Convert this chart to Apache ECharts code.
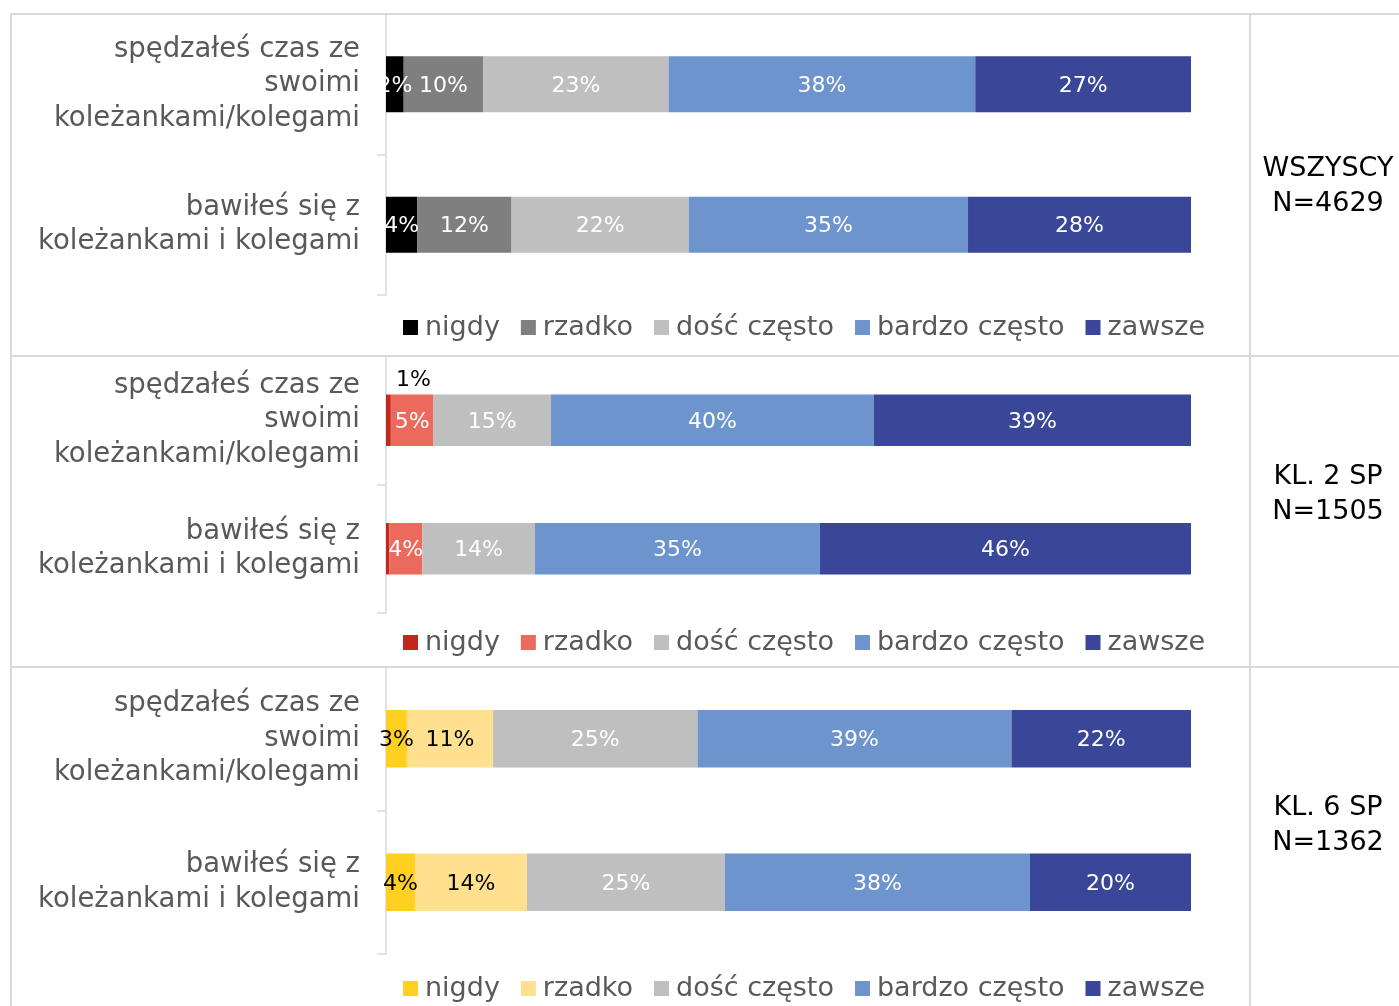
<!DOCTYPE html>
<html>
<head>
    <meta charset="utf-8">
    <title>Spędzanie czasu z kolegami</title>
    <script src="https://cdn.jsdelivr.net/npm/echarts@6/dist/echarts.min.js"></script>
    <style>
        body { margin: 0; background: #fff; }
    </style>
</head>
<body>
    <div id="main" style="width: 1399px; height: 1006px;"></div>
    <script type="text/javascript">
        // kategorie (pytania) i odpowiedzi
        const categories = ['spędzałeś czas ze\nswoimi\nkoleżankami/kolegami', 'bawiłeś się z\nkoleżankami i kolegami'];
        const answers = ['nigdy', 'rzadko', 'dość często', 'bardzo często', 'zawsze'];
        const groupNames = ['WSZYSCY', 'KL. 2 SP', 'KL. 6 SP'];
        const groupN = [4629, 1505, 1362];

        // odsetki: [odpowiedź][pytanie]
        const wszyscy = [[2.2, 3.9], [9.9, 11.7], [23.0, 22.0], [38.1, 34.7], [26.8, 27.7]];
        const klasa2 = [[0.6, 0.4], [5.3, 4.1], [14.6, 14.0], [40.1, 35.4], [39.4, 46.1]];
        const klasa6 = [[2.6, 3.6], [10.7, 13.9], [25.4, 24.6], [39.0, 37.9], [22.3, 20.0]];

        const groups = [wszyscy, klasa2, klasa6];

        // kolory paneli
        const palettes = [
            ['#000000', '#7f7f7f', '#bfbfbf', '#6d94cc', '#3a4697'],
            ['#c0271d', '#ec695d', '#bfbfbf', '#6d94cc', '#3a4697'],
            ['#ffd01f', '#ffe08f', '#bfbfbf', '#6d94cc', '#3a4697']
        ];
        const labelColors = [
            ['#fff', '#fff', '#fff', '#fff', '#fff'],
            ['#000', '#fff', '#fff', '#fff', '#fff'],
            ['#000', '#000', '#fff', '#fff', '#fff']
        ];

        const FONT = 'DejaVu Sans';
        const gridTops = [14, 356, 667];
        const gridHeights = [281, 257, 287];
        const legendCenters = [330, 645, 991];
        const sideCenters = [186, 494, 825];
        const lineColor = '#d9d9d9';

        var myChart = echarts.init(document.getElementById('main'));

        const grid = [], xAxis = [], yAxis = [], series = [], legend = [];

        groups.forEach((vals, g) => {
            grid.push({ left: 386, width: 805, top: gridTops[g], height: gridHeights[g] });
            xAxis.push({ type: 'value', gridIndex: g, min: 0, max: 100, show: false });
            yAxis.push({
                type: 'category',
                gridIndex: g,
                inverse: true,
                data: categories,
                axisLine: { show: true, lineStyle: { color: lineColor, width: 1.5 } },
                axisTick: { show: true, alignWithLabel: false, length: 9, lineStyle: { color: lineColor, width: 1.5 } },
                axisLabel: {
                    color: '#595959',
                    fontFamily: FONT,
                    fontSize: 27.5,
                    lineHeight: 34.5,
                    margin: 26,
                    padding: [9, 0, 0, 0]
                }
            });

            answers.forEach((name, a) => {
                series.push({
                    type: 'bar',
                    name: name,
                    stack: 'g' + g,
                    xAxisIndex: g,
                    yAxisIndex: g,
                    barWidth: '40%',
                    itemStyle: { color: palettes[g][a] },
                    label: {
                        show: true,
                        position: 'inside',
                        offset: [0, 2],
                        color: labelColors[g][a],
                        fontFamily: FONT,
                        fontSize: 22,
                        formatter: p => Math.round(p.value) + '%'
                    },
                    data: vals[a].map(v => {
                        const r = Math.round(v);
                        if (r === 0) return { value: v, label: { show: false } };
                        if (v < 1) return { value: v, label: { position: 'top', offset: [25, 2], color: '#000' } };
                        return v;
                    })
                });
            });

            legend.push({
                left: 403,
                top: legendCenters[g] - 16,
                padding: 0,
                icon: 'rect',
                itemWidth: 15,
                itemHeight: 15,
                itemGap: 21,
                selectedMode: false,
                textStyle: { color: '#595959', fontFamily: FONT, fontSize: 27, padding: [0, 0, 0, 2] },
                data: answers.map((n, a) => ({ name: n, itemStyle: { color: palettes[g][a] } }))
            });
        });

        // linie tabeli + opisy grup
        const graphics = [];
        const hLine = y => ({ type: 'line', shape: { x1: 11, y1: y, x2: 1399, y2: y }, style: { stroke: lineColor, lineWidth: 2 } });
        const vLine = x => ({ type: 'line', shape: { x1: x, y1: 13, x2: x, y2: 1006 }, style: { stroke: lineColor, lineWidth: 2 } });
        graphics.push(hLine(14), hLine(356), hLine(667), vLine(11), vLine(1250));
        groupNames.forEach((n, g) => {
            graphics.push({
                type: 'text',
                x: 1328,
                y: sideCenters[g],
                style: {
                    text: n + '\nN=' + groupN[g],
                    align: 'center',
                    verticalAlign: 'middle',
                    fill: '#000',
                    fontFamily: FONT,
                    fontSize: 27,
                    lineHeight: 35
                }
            });
        });

        var option = {
            animation: false,
            backgroundColor: '#fff',
            textStyle: { fontFamily: FONT },
            grid: grid,
            xAxis: xAxis,
            yAxis: yAxis,
            legend: legend,
            graphic: { elements: graphics },
            series: series
        };

        myChart.setOption(option);
    </script>
</body>
</html>
